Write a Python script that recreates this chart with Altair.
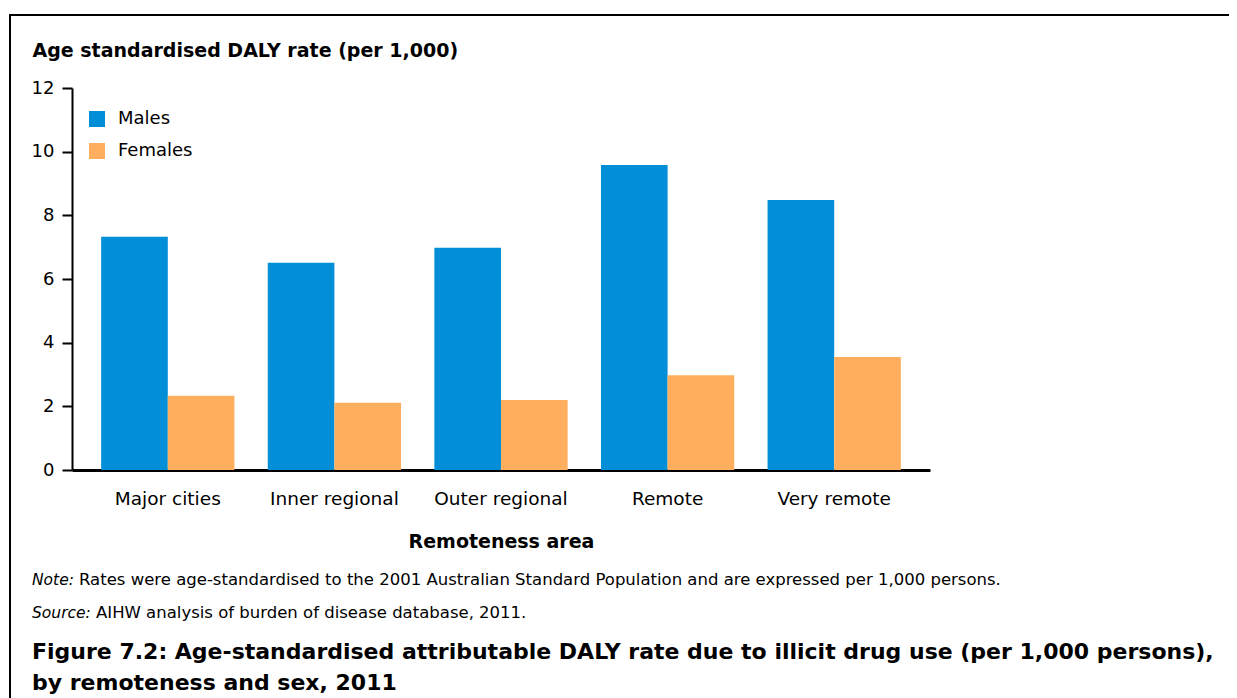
import altair as alt
import pandas as pd

categories = ["Major cities", "Inner regional", "Outer regional", "Remote", "Very remote"]
males = [7.33, 6.51, 6.98, 9.58, 8.48]
females = [2.33, 2.11, 2.20, 2.98, 3.55]
series = ["Males", "Females"]
colors = ["#038fd8", "#ffae5e"]
y_ticks = [0, 2, 4, 6, 8, 10, 12]

y_title = "Age standardised DALY rate (per 1,000)"
x_title = "Remoteness area"
note_lead = "Note:"
note_text = "Rates were age-standardised to the 2001 Australian Standard Population and are expressed per 1,000 persons."
source_lead = "Source:"
source_text = "AIHW analysis of burden of disease database, 2011."
caption_1 = "Figure 7.2: Age-standardised attributable DALY rate due to illicit drug use (per 1,000 persons),"
caption_2 = "by remoteness and sex, 2011"

rows = []
for c, m, f in zip(categories, males, females):
    rows.append({"area": c, "sex": "Males", "rate": m})
    rows.append({"area": c, "sex": "Females", "rate": f})
df = pd.DataFrame(rows)

FONT = "DejaVu Sans"
W, H = 858, 382

bars = alt.Chart(df).mark_bar().encode(
    x=alt.X("area:N", sort=categories,
            scale=alt.Scale(paddingInner=0.2, paddingOuter=0.175),
            axis=alt.Axis(title=x_title, labelAngle=0, ticks=False,
                          labelFont=FONT, labelFontSize=18.5, labelColor="black",
                          labelPadding=19, domainColor="black", domainWidth=3,
                          titleFont=FONT, titleFontSize=19, titleFontWeight="bold",
                          titleColor="black", titleBaseline="alphabetic", titleY=77)),
    xOffset=alt.XOffset("sex:N", sort=series),
    y=alt.Y("rate:Q", scale=alt.Scale(domain=[0, 12], nice=False),
            axis=alt.Axis(title=y_title, values=y_ticks, grid=False,
                          tickSize=10, tickWidth=2, tickColor="black",
                          domainColor="black", domainWidth=2,
                          labelFont=FONT, labelFontSize=18, labelColor="black",
                          labelPadding=8,
                          titleFont=FONT, titleFontSize=19, titleFontWeight="bold",
                          titleColor="black", titleAngle=0, titleAlign="left",
                          titleBaseline="alphabetic", titleX=-40, titleY=-32)),
    color=alt.Color("sex:N", sort=series,
                    scale=alt.Scale(domain=series, range=colors),
                    legend=alt.Legend(title=None, orient="none", legendX=16, legendY=22,
                                      symbolType="square", symbolSize=256,
                                      symbolStrokeWidth=0, symbolOpacity=1,
                                      labelFont=FONT, labelFontSize=18, labelColor="black",
                                      labelOffset=12, rowPadding=14, padding=0)),
)

border = alt.Chart(pd.DataFrame({"k": [0]})).mark_rect(
    filled=False, color="black", strokeWidth=2
).encode(x=alt.value(-62), x2=alt.value(1200), y=alt.value(-73), y2=alt.value(720))

def txt(s, x, y, size, weight="normal", style="normal"):
    return alt.Chart(pd.DataFrame({"t": [s]})).mark_text(
        text=s, font=FONT, fontSize=size, fontWeight=weight, fontStyle=style,
        align="left", baseline="alphabetic", color="black"
    ).encode(x=alt.value(x), y=alt.value(y))

texts = [
    txt(note_lead, -40, 497, 15.5, style="italic"),
    txt(note_text, 7, 497, 16.5),
    txt(source_lead, -40, 530, 15.5, style="italic"),
    txt(source_text, 24, 530, 16.5),
    txt(caption_1, -40, 571, 22, weight="bold"),
    txt(caption_2, -40, 602, 22, weight="bold"),
]

chart = alt.layer(border, bars, *texts).properties(
    width=W, height=H,
    autosize=alt.AutoSizeParams(type="none"),
    padding={"left": 64, "top": 80, "right": 299, "bottom": 228},
    background="white",
).configure_view(stroke=None)

chart.save("out.html", embed_options={"renderer": "svg", "actions": False})
